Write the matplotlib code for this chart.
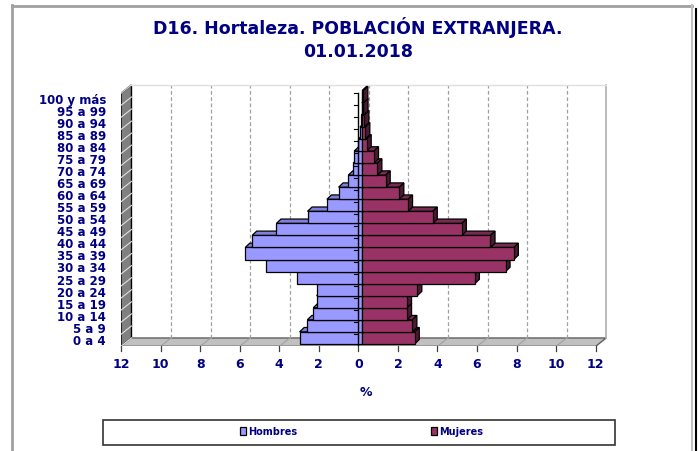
import matplotlib.pyplot as plt
from matplotlib.patches import Polygon, Rectangle
from matplotlib.lines import Line2D

# datos (% sobre el total de población extranjera)
edades = ['0 a 4', '5 a 9', '10 a 14', '15 a 19', '20 a 24', '25 a 29', '30 a 34',
          '35 a 39', '40 a 44', '45 a 49', '50 a 54', '55 a 59', '60 a 64', '65 a 69',
          '70 a 74', '75 a 79', '80 a 84', '85 a 89', '90 a 94', '95 a 99', '100 y más']
hombres = [3.17, 2.78, 2.48, 2.31, 2.31, 3.28, 4.86, 5.92, 5.57, 4.34, 2.77,
           1.79, 1.20, 0.71, 0.46, 0.41, 0.20, 0.12, 0.05, 0.02, 0.01]
mujeres = [2.65, 2.53, 2.26, 2.26, 2.78, 5.69, 7.24, 7.66, 6.48, 5.03, 3.56,
           2.31, 1.87, 1.18, 0.76, 0.59, 0.22, 0.15, 0.10, 0.06, 0.05]
ticks_x = list(range(-12, 13, 2))

navy = '#000080'
azul, azul_top = '#9999FF', '#7f7fe0'
gran, gran_top, gran_lado = '#993366', '#7a2952', '#4c1a33'

# profundidad del "3D" en unidades de datos
DX, DY = 0.53, 0.69      # paredes y suelo
BX, BY = 0.20, 0.20      # desplazamiento de la cara frontal de las barras
BDX, BDY = 0.23, 0.36    # fondo de las barras

fig = plt.figure(figsize=(6.99, 4.52), dpi=100)
ax = fig.add_axes([121 / 699, 1 - 347.3 / 452, 0.6961, 0.5812])
ax.set_xlim(-12, 12.6)
ax.set_ylim(-0.5, 21.3)
ax.axis('off')
n = len(edades)
top = n - 0.5

# pared izquierda
ax.add_patch(Polygon([(-12, -0.5), (-12, top), (-12 + DX, top + DY), (-12 + DX, -0.5 + DY)],
                     closed=True, fc='#808080', ec='black', lw=1, zorder=1))
for k in range(n + 1):
    ax.plot([-12, -12 + DX], [k - 0.5, k - 0.5 + DY], color='#e0e0e0', lw=0.8, zorder=1.5)

# suelo
ax.add_patch(Polygon([(-12, -0.5), (12, -0.5), (12 + DX, -0.5 + DY), (-12 + DX, -0.5 + DY)],
                     closed=True, fc='#c0c0c0', ec='#606060', lw=1, zorder=1))
for x in ticks_x[1:-1]:
    ax.plot([x, x + DX], [-0.5, -0.5 + DY], color='#a0a0a0', lw=0.8, zorder=1.5)

# pared del fondo: rejilla
for x in ticks_x[1:-1]:
    ax.plot([x + DX, x + DX], [-0.5 + DY, top + DY], color='#a0a0a0', lw=0.9,
            ls=(0, (3, 2)), zorder=1)
ax.plot([12 + DX, 12 + DX], [-0.5 + DY, top + DY], color='#b0b0b0', lw=1.2, zorder=1)
ax.plot([-12 + DX, 12 + DX], [top + DY, top + DY], color='#e0e0e0', lw=1, zorder=1)

# barras
for i in range(n):
    yb = i - 0.5 + BY
    yt = i + 0.5 + BY
    z = 2 + i * 0.01
    # hombres
    x0, x1 = -hombres[i] + BX, BX
    ax.add_patch(Polygon([(x0, yt), (x1, yt), (x1 + BDX, yt + BDY), (x0 + BDX, yt + BDY)],
                         closed=True, fc=azul_top, ec='black', lw=0.9, zorder=z))
    ax.add_patch(Rectangle((x0, yb), x1 - x0, 1, fc=azul, ec='black', lw=0.9, zorder=z))
    # mujeres
    x0, x1 = BX, mujeres[i] + BX
    ax.add_patch(Polygon([(x0, yt), (x1, yt), (x1 + BDX, yt + BDY), (x0 + BDX, yt + BDY)],
                         closed=True, fc=gran_top, ec='black', lw=0.9, zorder=z))
    ax.add_patch(Polygon([(x1, yb), (x1, yt), (x1 + BDX, yt + BDY), (x1 + BDX, yb + BDY)],
                         closed=True, fc=gran_lado, ec='black', lw=0.9, zorder=z))
    ax.add_patch(Rectangle((x0, yb), x1 - x0, 1, fc=gran, ec='black', lw=0.9, zorder=z))

# eje vertical en 0 con marcas
ax.plot([0, 0], [-0.5, top], color='black', lw=1, zorder=5)
for k in range(n + 1):
    ax.plot([-0.2, 0], [k - 0.5, k - 0.5], color='black', lw=0.8, zorder=5)

# eje horizontal: marcas y etiquetas
for x in ticks_x:
    ax.plot([x, x], [-0.5, -0.92], color='#404040', lw=0.9, clip_on=False)
    ax.text(x, -1.95, str(abs(x)), ha='center', va='center', color=navy,
            fontsize=9, fontweight='bold', clip_on=False)

# etiquetas de edad
for i, e in enumerate(edades):
    ax.text(-12.76, i, e, ha='right', va='center', color=navy,
            fontsize=8.5, fontweight='bold', clip_on=False)

# títulos
fig.text(358 / 699, 1 - 28 / 452, 'D16. Hortaleza. POBLACIÓN EXTRANJERA.', ha='center',
         va='center', color=navy, fontsize=12.5, fontweight='bold')
fig.text(358 / 699, 1 - 52 / 452, '01.01.2018', ha='center', va='center', color=navy,
         fontsize=12.5, fontweight='bold')
fig.text(366 / 699, 1 - 393 / 452, '%', ha='center', va='center', color=navy,
         fontsize=9, fontweight='bold')

# leyenda
fig.patches.append(Rectangle((103 / 699, 1 - 446 / 452), 512 / 699, 25 / 452,
                             transform=fig.transFigure, fc='white', ec='#333333', lw=1.2))
for xs, col, lab in [(240, azul, 'Hombres'), (431, gran, 'Mujeres')]:
    fig.patches.append(Rectangle((xs / 699, 1 - 436 / 452), 6 / 699, 8 / 452,
                                 transform=fig.transFigure, fc=col, ec='black', lw=0.9))
    fig.text((xs + 8) / 699, 1 - 432 / 452, lab, ha='left', va='center', color=navy,
             fontsize=7, fontweight='bold')

# marco exterior
fig.lines.append(Line2D([12 / 699, 12 / 699], [0, 1 - 6 / 452], transform=fig.transFigure,
                        color='#a0a0a0', lw=2))
fig.lines.append(Line2D([12 / 699, 692 / 699], [1 - 6.5 / 452, 1 - 6.5 / 452],
                        transform=fig.transFigure, color='#a0a0a0', lw=2))
fig.lines.append(Line2D([692 / 699, 692 / 699], [0, 1 - 6 / 452], transform=fig.transFigure,
                        color='#c0c0c0', lw=1.5))
fig.lines.append(Line2D([696 / 699, 696 / 699], [0, 1 - 10 / 452], transform=fig.transFigure,
                        color='black', lw=1.5))

fig.savefig('out.png', dpi=100)
